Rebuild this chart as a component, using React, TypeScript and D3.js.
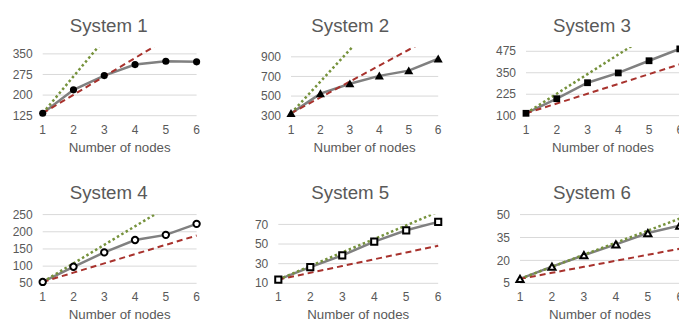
import * as d3 from "d3";
import React, { useRef, useEffect } from "react";

// number of nodes on the x axis
const nodes = [1, 2, 3, 4, 5, 6];
const titles = ["System 1", "System 2", "System 3", "System 4", "System 5", "System 6"];

// measured throughput per system
const measured1 = [134, 219, 271, 311, 323, 321];
const measured2 = [324, 525, 626, 706, 759, 880];
const measured3 = [114, 199, 292, 349, 420, 489];
const measured4 = [54, 98, 140, 176, 191, 223];
const measured5 = [13.8, 26.4, 38.4, 52.5, 64, 72.6];
const measured6 = [7.9, 15.9, 23.4, 30.5, 37.9, 42.8];

// green dotted reference lines
const ideal1 = [134, 268, 402, 536, 670, 804];
const ideal2 = [324, 648, 972, 1296, 1620, 1944];
const ideal3 = [114, 228, 342, 456, 570, 684];
const ideal4 = [54, 108, 162, 216, 270, 324];
const ideal5 = [13.8, 27.6, 41.4, 55.2, 69, 82.8];
const ideal6 = [7.9, 15.8, 23.7, 31.6, 39.5, 47.4];

// red dashed reference lines
const half1 = [134, 201, 268, 335, 402, 469];
const half2 = [324, 486, 648, 810, 972, 1134];
const half3 = [114, 171, 228, 285, 342, 399];
const half4 = [54, 81, 108, 135, 162, 189];
const half5 = [13.8, 20.7, 27.6, 34.5, 41.4, 48.3];
const half6 = [7.9, 11.85, 15.8, 19.75, 23.7, 27.65];

// y axis ranges and tick labels
const yDomains = [[125, 375], [300, 1000], [100, 500], [50, 250], [10, 80], [5, 50]];
const yTicks1 = [125, 200, 275, 350];
const yTicks2 = [300, 500, 700, 900];
const yTicks3 = [100, 225, 350, 475];
const yTicks4 = [50, 100, 150, 200, 250];
const yTicks5 = [10, 30, 50, 70];
const yTicks6 = [5, 20, 35, 50];

const markerTypes = ["circle", "triangle", "square", "circle", "square", "triangle"];
const markerFilled = [true, true, true, false, false, false];

const measured = [measured1, measured2, measured3, measured4, measured5, measured6];
const ideal = [ideal1, ideal2, ideal3, ideal4, ideal5, ideal6];
const half = [half1, half2, half3, half4, half5, half6];
const yTicks = [yTicks1, yTicks2, yTicks3, yTicks4, yTicks5, yTicks6];

// layout
const colX = [0, 241.6, 483.2];
const rowY = [0, 167.6];
const plotLefts = [42.7, 49.4, 42.8, 42.7, 36.7, 36.8];
const plotRight = 196.6;
const plotTop = 47;
const plotBottom = 115.7;
const textColor = "#595959";
const font = "'Liberation Sans', Arial, sans-serif";

function ScalingCharts() {
  const ref = useRef(null);

  useEffect(() => {
    const svg = d3.select(ref.current);
    svg.selectAll("*").remove();

    titles.forEach((title, i) => {
      const ox = colX[i % 3];
      const oy = rowY[Math.floor(i / 3)];
      const g = svg.append("g").attr("transform", `translate(${ox},${oy})`);

      const x = d3.scaleLinear().domain([1, 6]).range([plotLefts[i], plotRight]);
      const y = d3.scaleLinear().domain(yDomains[i]).range([plotBottom, plotTop]);

      const clipId = "clip" + i;
      g.append("clipPath")
        .attr("id", clipId)
        .append("rect")
        .attr("x", plotLefts[i] - 6)
        .attr("y", plotTop)
        .attr("width", plotRight - plotLefts[i] + 12)
        .attr("height", plotBottom - plotTop + 10);

      // title
      g.append("text")
        .attr("x", 108.7)
        .attr("y", 31.7)
        .attr("text-anchor", "middle")
        .style("font-family", font)
        .style("font-size", "18.7px")
        .attr("fill", textColor)
        .text(title);

      // gridlines + y labels
      g.selectAll(".grid")
        .data(yTicks[i])
        .enter()
        .append("line")
        .attr("x1", plotLefts[i])
        .attr("x2", plotRight)
        .attr("y1", (d) => y(d))
        .attr("y2", (d) => y(d))
        .attr("stroke", "#d9d9d9")
        .attr("stroke-width", 1);

      g.selectAll(".ylab")
        .data(yTicks[i])
        .enter()
        .append("text")
        .attr("x", plotLefts[i] - 10)
        .attr("y", (d) => y(d) + 4.2)
        .attr("text-anchor", "end")
        .style("font-family", font)
        .style("font-size", "12px")
        .attr("fill", textColor)
        .text((d) => d);

      // x labels
      g.selectAll(".xlab")
        .data(nodes)
        .enter()
        .append("text")
        .attr("x", (d) => x(d))
        .attr("y", plotBottom + 17.8)
        .attr("text-anchor", "middle")
        .style("font-family", font)
        .style("font-size", "12px")
        .attr("fill", textColor)
        .text((d) => d);

      g.append("text")
        .attr("x", (plotLefts[i] + plotRight) / 2)
        .attr("y", plotBottom + 35.8)
        .attr("text-anchor", "middle")
        .style("font-family", font)
        .style("font-size", "13.3px")
        .attr("fill", textColor)
        .text("Number of nodes");

      const line = d3
        .line()
        .x((d, j) => x(nodes[j]))
        .y((d) => y(d));

      const lines = g.append("g").attr("clip-path", `url(#${clipId})`);

      lines
        .append("path")
        .attr("d", line(measured[i]))
        .attr("fill", "none")
        .attr("stroke", "#808080")
        .attr("stroke-width", 2.5);

      lines
        .append("path")
        .attr("d", line(half[i]))
        .attr("fill", "none")
        .attr("stroke", "#a8322d")
        .attr("stroke-width", 2)
        .attr("stroke-dasharray", "6,4");

      lines
        .append("path")
        .attr("d", line(ideal[i]))
        .attr("fill", "none")
        .attr("stroke", "#76923c")
        .attr("stroke-width", 2.5)
        .attr("stroke-dasharray", "2.5,2.6");

      // markers
      const type = markerTypes[i];
      const filled = markerFilled[i];
      let sym;
      if (type === "circle") sym = d3.symbol(d3.symbolCircle, filled ? 40 : 32);
      else if (type === "triangle") sym = d3.symbol(d3.symbolTriangle, filled ? 36 : 22);
      else sym = d3.symbol(d3.symbolSquare, filled ? 46 : 38);

      g.selectAll(".marker")
        .data(measured[i])
        .enter()
        .append("path")
        .attr("d", sym())
        .attr("transform", (d, j) => {
          const dy = type === "triangle" ? 1 : 0;
          return `translate(${x(nodes[j])},${y(d) + dy})`;
        })
        .attr("fill", filled ? "#000" : "#fff")
        .attr("stroke", "#000")
        .attr("stroke-width", filled ? 0 : 2);
    });
  }, []);

  return (
    <svg
      ref={ref}
      width={679}
      height={320}
      style={{ position: "absolute", left: 0, top: 0, display: "block", background: "#fff" }}
    ></svg>
  );
}

export default function App() {
  return <ScalingCharts />;
}
